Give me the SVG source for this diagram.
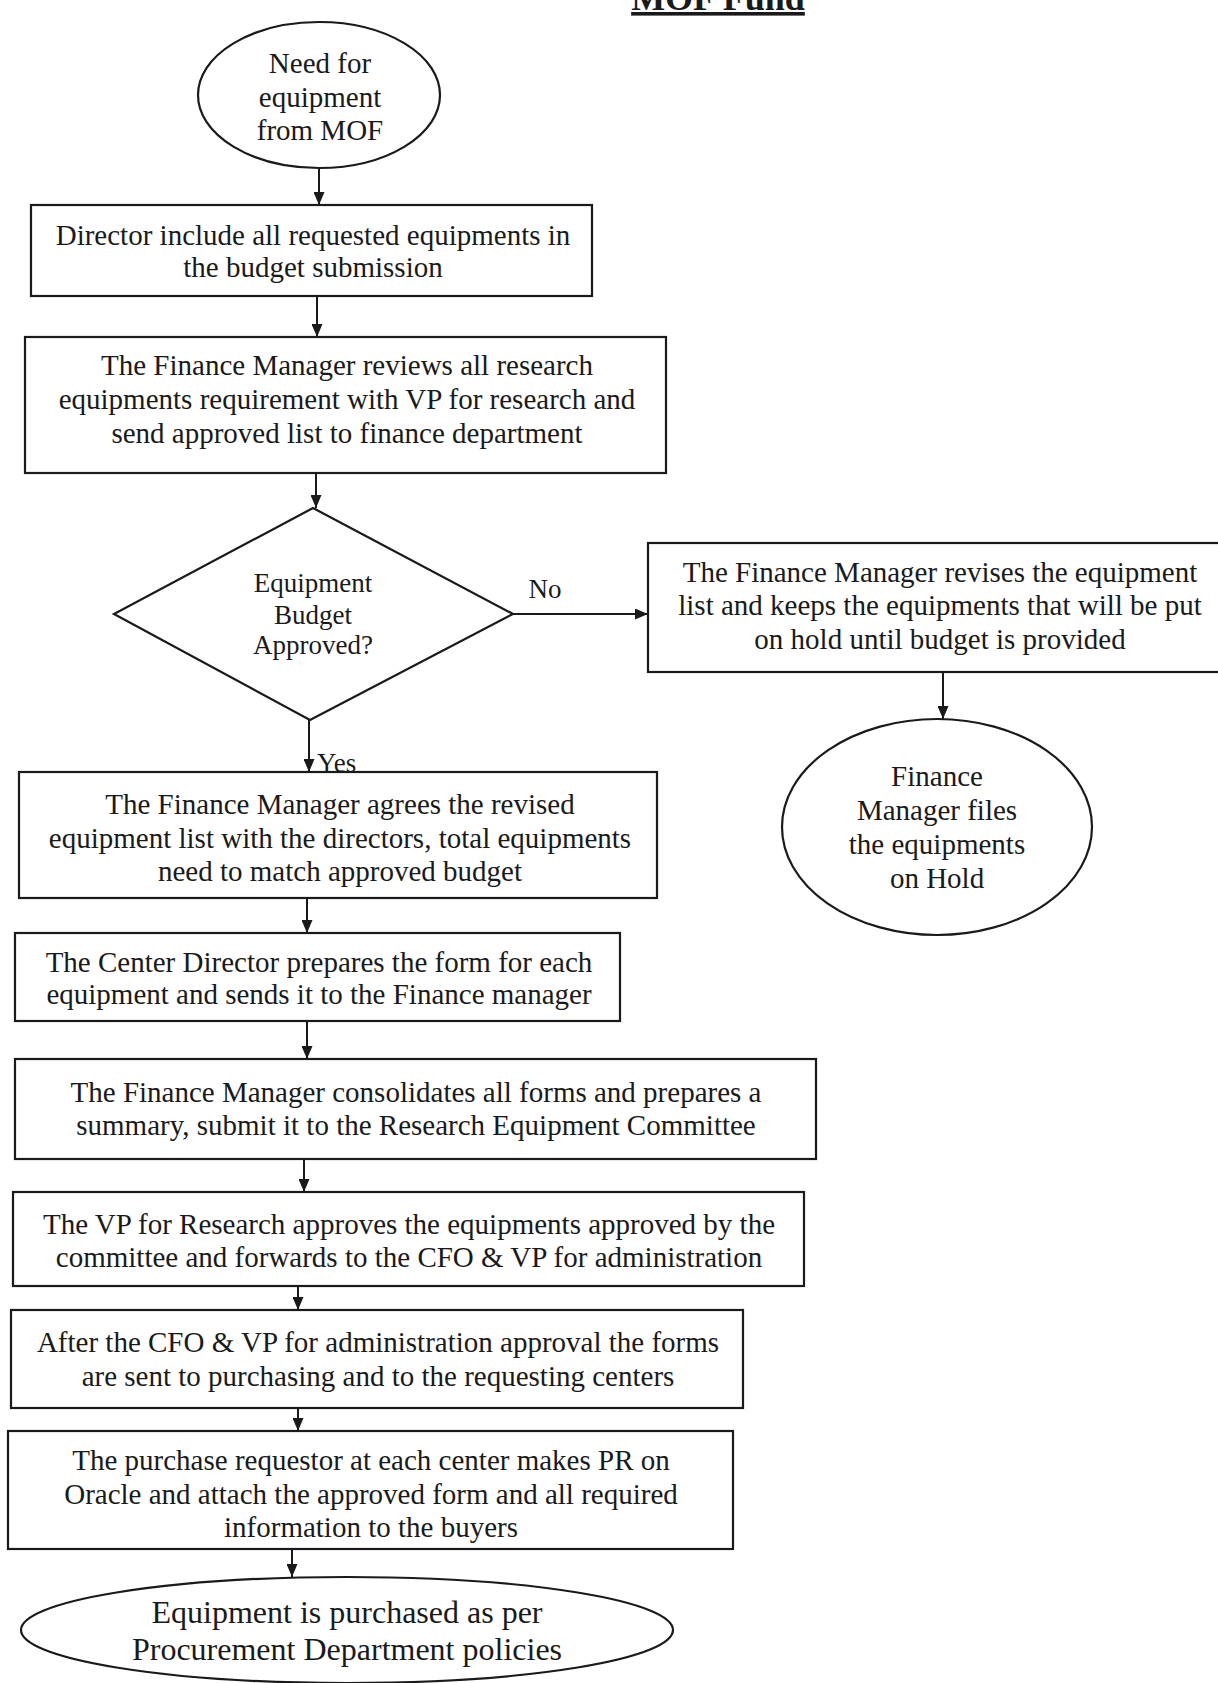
<svg xmlns="http://www.w3.org/2000/svg" width="1218" height="1683" viewBox="0 0 1218 1683">
<style>
  .shape { fill: #ffffff; stroke: #1a1a1a; stroke-width: 2.2; }
  .conn { fill: none; stroke: #1a1a1a; stroke-width: 2; }
  text { font-family: "Liberation Serif", "Times New Roman", serif; fill: #1a1a1a; }
  .t { font-size: 29px; text-anchor: middle; }
  .d { font-size: 27px; text-anchor: middle; }
  .lbl { font-size: 27px; }
  .e { font-size: 32px; text-anchor: middle; }
  .title { font-size: 36px; font-weight: bold; text-anchor: middle; text-decoration: underline; }
</style>
<defs>
  <marker id="arrow" markerUnits="userSpaceOnUse" markerWidth="13" markerHeight="11" refX="13" refY="5.5" orient="auto">
    <path d="M0,0 L13,5.5 L0,11 z" fill="#1a1a1a"/>
  </marker>
</defs>
<rect width="1218" height="1683" fill="#ffffff"/>

<text class="title" x="718" y="10">MOF Fund</text>

<g id="connectors">
  <line class="conn" x1="319" y1="169" x2="319" y2="205" marker-end="url(#arrow)"/>
  <line class="conn" x1="317" y1="296" x2="317" y2="337" marker-end="url(#arrow)"/>
  <line class="conn" x1="316" y1="473" x2="316" y2="508" marker-end="url(#arrow)"/>
  <line class="conn" x1="513" y1="614" x2="648" y2="614" marker-end="url(#arrow)"/>
  <line class="conn" x1="943" y1="672" x2="943" y2="719" marker-end="url(#arrow)"/>
  <line class="conn" x1="309" y1="720" x2="309" y2="772" marker-end="url(#arrow)"/>
  <line class="conn" x1="307" y1="898" x2="307" y2="933" marker-end="url(#arrow)"/>
  <line class="conn" x1="307" y1="1021" x2="307" y2="1059" marker-end="url(#arrow)"/>
  <line class="conn" x1="304" y1="1159" x2="304" y2="1192" marker-end="url(#arrow)"/>
  <line class="conn" x1="298" y1="1286" x2="298" y2="1310" marker-end="url(#arrow)"/>
  <line class="conn" x1="298" y1="1408" x2="298" y2="1431" marker-end="url(#arrow)"/>
  <line class="conn" x1="292" y1="1549" x2="292" y2="1577" marker-end="url(#arrow)"/>
  <text class="lbl" x="545" y="598" text-anchor="middle">No</text>
  <text class="lbl" x="317" y="772">Yes</text>
</g>

<g id="start">
  <ellipse class="shape" cx="319" cy="95" rx="121" ry="73"/>
  <text class="t" x="320" y="73">Need for</text>
  <text class="t" x="320" y="107">equipment</text>
  <text class="t" x="320" y="140">from MOF</text>
</g>

<g id="director-include">
  <rect class="shape" x="31" y="205" width="561" height="91"/>
  <text class="t" x="313" y="245">Director include all requested equipments in</text>
  <text class="t" x="313" y="277">the budget submission</text>
</g>

<g id="fm-reviews">
  <rect class="shape" x="25" y="337" width="641" height="136"/>
  <text class="t" x="347" y="375">The Finance Manager reviews all research</text>
  <text class="t" x="347" y="409">equipments requirement with VP for research and</text>
  <text class="t" x="347" y="443">send approved list to finance department</text>
</g>

<g id="budget-approved">
  <polygon class="shape" points="313,508 513,614 310,720 114,614"/>
  <text class="d" x="313" y="592">Equipment</text>
  <text class="d" x="313" y="624">Budget</text>
  <text class="d" x="313" y="654">Approved?</text>
</g>

<g id="fm-revises">
  <rect class="shape" x="648" y="543" width="580" height="129"/>
  <text class="t" x="940" y="582">The Finance Manager revises the equipment</text>
  <text class="t" x="940" y="615">list and keeps the equipments that will be put</text>
  <text class="t" x="940" y="649">on hold until budget is provided</text>
</g>

<g id="fm-files-hold">
  <ellipse class="shape" cx="937" cy="827" rx="155" ry="108"/>
  <text class="t" x="937" y="786">Finance</text>
  <text class="t" x="937" y="820">Manager files</text>
  <text class="t" x="937" y="854">the equipments</text>
  <text class="t" x="937" y="888">on Hold</text>
</g>

<g id="fm-agrees">
  <rect class="shape" x="19" y="772" width="638" height="126"/>
  <text class="t" x="340" y="814">The Finance Manager agrees the revised</text>
  <text class="t" x="340" y="848">equipment list with the directors, total equipments</text>
  <text class="t" x="340" y="881">need to match approved budget</text>
</g>

<g id="center-director">
  <rect class="shape" x="15" y="933" width="605" height="88"/>
  <text class="t" x="319" y="972">The Center Director prepares the form for each</text>
  <text class="t" x="319" y="1004">equipment and sends it to the Finance manager</text>
</g>

<g id="fm-consolidates">
  <rect class="shape" x="15" y="1059" width="801" height="100"/>
  <text class="t" x="416" y="1102">The Finance Manager consolidates all forms and prepares a</text>
  <text class="t" x="416" y="1135">summary, submit it to the Research Equipment Committee</text>
</g>

<g id="vp-approves">
  <rect class="shape" x="13" y="1192" width="791" height="94"/>
  <text class="t" x="409" y="1234">The VP for Research approves the equipments approved by the</text>
  <text class="t" x="409" y="1267">committee and forwards to the CFO &amp; VP for administration</text>
</g>

<g id="cfo-approval">
  <rect class="shape" x="11" y="1310" width="732" height="98"/>
  <text class="t" x="378" y="1352">After the CFO &amp; VP for administration approval the forms</text>
  <text class="t" x="378" y="1386">are sent to purchasing and to the requesting centers</text>
</g>

<g id="purchase-requestor">
  <rect class="shape" x="8" y="1431" width="725" height="118"/>
  <text class="t" x="371" y="1470">The purchase requestor at each center makes PR on</text>
  <text class="t" x="371" y="1504">Oracle and attach the approved form and all required</text>
  <text class="t" x="371" y="1537">information to the buyers</text>
</g>

<g id="end">
  <ellipse class="shape" cx="347" cy="1630" rx="326" ry="53"/>
  <text class="e" x="347" y="1623">Equipment is purchased as per</text>
  <text class="e" x="347" y="1660">Procurement Department policies</text>
</g>
</svg>
